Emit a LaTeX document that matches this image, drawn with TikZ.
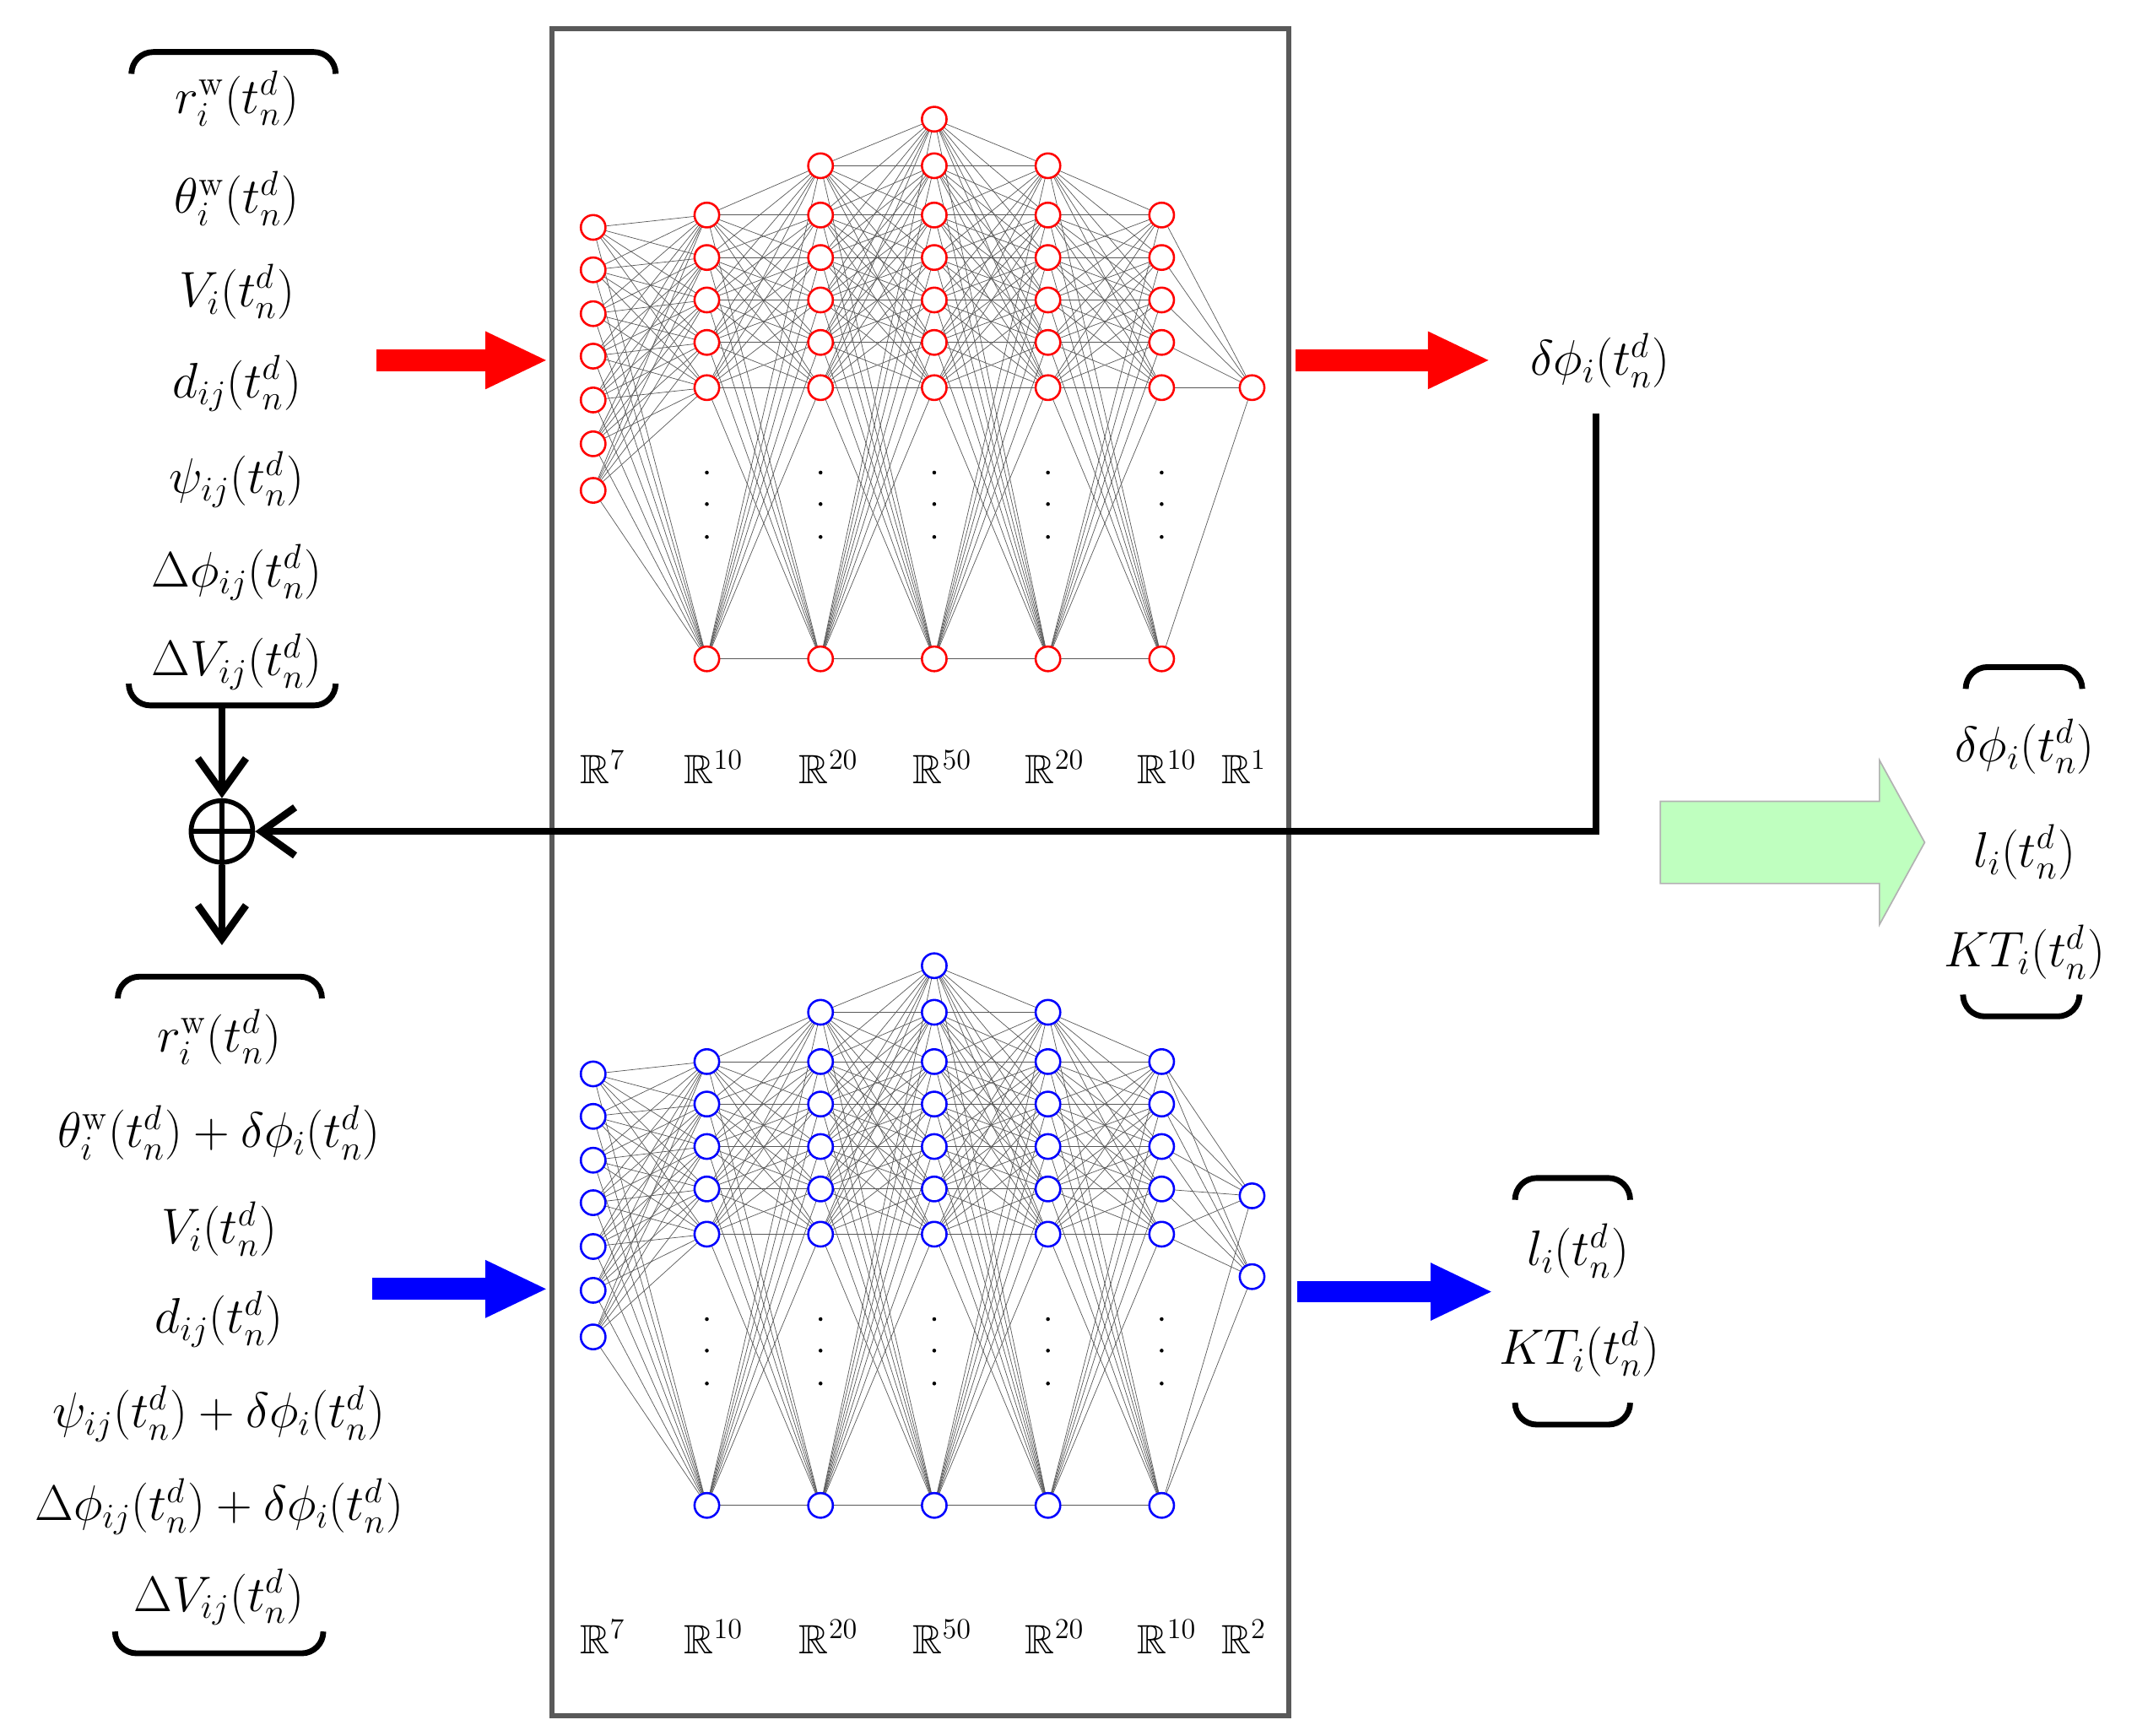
\documentclass[tikz,border=0pt]{standalone}
\usepackage{amsmath,amssymb}
\usetikzlibrary{arrows.meta}
\begin{document}
\begin{tikzpicture}[x=0.02cm,y=-0.02cm,
  neu/.style={circle,draw=#1,line width=0.9pt,fill=white,minimum size=0.36cm,inner sep=0pt},
  wire/.style={gray!70!black,line width=0.25pt},
  brace/.style={line width=2.4pt,rounded corners=9pt},
  lab/.style={font=\fontsize{21}{24}\selectfont,inner sep=0pt},
  dim/.style={font=\fontsize{17}{20}\selectfont,inner sep=0pt},
  fat/.style={line width=3pt,-{Straight Barb[length=14pt,width=20pt]}}]
\useasboundingbox (0,0) rectangle (1560,1267);
% box
\node[draw=gray!70!black,line width=2pt,minimum width=538*0.02cm,minimum height=1232*0.02cm,anchor=north west,inner sep=0pt] (box) at (401,19) {};
% networks
\foreach \net/\col/\dy/\outl in {r/red/0/{283}, b/blue/618/{255,314}}{
  \foreach \l/\x/\ys in {0/433/{166,197,229,260,292,324,358},
                         1/516/{157,188,219,250,283,481},
                         2/599/{121,157,188,219,250,283,481},
                         3/682/{87,121,157,188,219,250,283,481},
                         4/765/{121,157,188,219,250,283,481},
                         5/848/{157,188,219,250,283,481}}{
    \foreach \y in \ys { \coordinate (\net\l-\y) at (\x,\y+\dy); }
  }
  \foreach \y in \outl { \coordinate (\net6-\y) at (914,\y+\dy); }
  \foreach \a/\b/\ya/\yb in {0/1/{166,197,229,260,292,324,358}/{157,188,219,250,283,481},
      1/2/{157,188,219,250,283,481}/{121,157,188,219,250,283,481},
      2/3/{121,157,188,219,250,283,481}/{87,121,157,188,219,250,283,481},
      3/4/{87,121,157,188,219,250,283,481}/{121,157,188,219,250,283,481},
      4/5/{121,157,188,219,250,283,481}/{157,188,219,250,283,481}}{
    \foreach \i in \ya { \foreach \j in \yb { \draw[wire] (\net\a-\i) -- (\net\b-\j); } }
  }
  \foreach \i in {157,188,219,250,283,481}{ \foreach \j in \outl { \draw[wire] (\net5-\i) -- (\net6-\j); } }
  \foreach \l/\x/\ys in {0/433/{166,197,229,260,292,324,358},
                         1/516/{157,188,219,250,283,481},
                         2/599/{121,157,188,219,250,283,481},
                         3/682/{87,121,157,188,219,250,283,481},
                         4/765/{121,157,188,219,250,283,481},
                         5/848/{157,188,219,250,283,481}}{
    \foreach \y in \ys { \node[neu=\col] (n\net\l-\y) at (\net\l-\y) {}; }
  }
  \foreach \y in \outl { \node[neu=\col] (n\net6-\y) at (\net6-\y) {}; }
  \foreach \x in {516,599,682,765,848}{
    \foreach \y in {345,368,392}{ \fill (\x,\y+\dy) circle (1.4); }
  }
}
% dimension labels
\foreach \net/\y/\last in {r/560/1, b/1195/2}{
  \node[dim] (\net d0) at (440,\y) {$\mathbb{R}^{7}$};
  \node[dim] (\net d1) at (521,\y) {$\mathbb{R}^{10}$};
  \node[dim] (\net d2) at (605,\y) {$\mathbb{R}^{20}$};
  \node[dim] (\net d3) at (688,\y) {$\mathbb{R}^{50}$};
  \node[dim] (\net d4) at (770,\y) {$\mathbb{R}^{20}$};
  \node[dim] (\net d5) at (852,\y) {$\mathbb{R}^{10}$};
  \node[dim] (\net d6) at (908,\y) {$\mathbb{R}^{\last}$};
}
% upper inputs
\node[lab] (u1) at (173,72) {$r_i^{\mathrm{w}}(t_n^d)$};
\node[lab] (u2) at (173,145) {$\theta_i^{\mathrm{w}}(t_n^d)$};
\node[lab] (u3) at (173,213) {$V_i(t_n^d)$};
\node[lab] (u4) at (173,280) {$d_{ij}(t_n^d)$};
\node[lab] (u5) at (173,350) {$\psi_{ij}(t_n^d)$};
\node[lab] (u6) at (173,418) {$\Delta\phi_{ij}(t_n^d)$};
\node[lab] (u7) at (173,483) {$\Delta V_{ij}(t_n^d)$};
\draw[brace] (96,52) -- (96,38) -- (245,38) -- (245,52);
\draw[brace] (94,500) -- (94,515) -- (245,515) -- (245,500);
\coordinate (ubr) at (162,517);
% lower inputs
\node[lab] (l1) at (160,757) {$r_i^{\mathrm{w}}(t_n^d)$};
\node[lab] (l2) at (160,827) {$\theta_i^{\mathrm{w}}(t_n^d)+\delta\phi_i(t_n^d)$};
\node[lab] (l3) at (160,897) {$V_i(t_n^d)$};
\node[lab] (l4) at (160,963) {$d_{ij}(t_n^d)$};
\node[lab] (l5) at (160,1032) {$\psi_{ij}(t_n^d)+\delta\phi_i(t_n^d)$};
\node[lab] (l6) at (160,1100) {$\Delta\phi_{ij}(t_n^d)+\delta\phi_i(t_n^d)$};
\node[lab] (l7) at (160,1166) {$\Delta V_{ij}(t_n^d)$};
\draw[brace] (86,728) -- (86,713) -- (235,713) -- (235,728);
\draw[brace] (84,1192) -- (84,1207) -- (236,1207) -- (236,1192);
\coordinate (lbr) at (162,690);
% oplus
\node[circle,draw,line width=2pt,minimum size=0.9cm,inner sep=0pt] (plus) at (162,607) {};
\draw[line width=2pt] (plus.north) -- (plus.south) (plus.west) -- (plus.east);
\draw[fat] (ubr) -- (plus.north);
\draw[fat] (plus.south) -- (lbr);
% feedback
\node[lab] (dphi) at (1168,263) {$\delta\phi_i(t_n^d)$};
\coordinate (fb0) at (1165,302);
\draw[fat] (fb0) |- (plus.east);
% red arrows
\coordinate (ra0) at (275,263); \coordinate (ra1) at (400,263);
\coordinate (ra2) at (946,263); \coordinate (ra3) at (1088,263);
\draw[red,line width=9pt,-{Triangle[length=26pt,width=22pt]}] (ra0) -- (ra1);
\draw[red,line width=9pt,-{Triangle[length=26pt,width=22pt]}] (ra2) -- (ra3);
% blue arrows
\coordinate (ba0) at (272,941); \coordinate (ba1) at (400,941);
\draw[blue,line width=9pt,-{Triangle[length=26pt,width=22pt]}] (ba0) -- (ba1);
\node[lab] (o1) at (1152,913) {$l_i(t_n^d)$};
\node[lab] (o2) at (1153,985) {$KT_i(t_n^d)$};
\coordinate (ba2) at (947,943); \coordinate (ba3) at (1090,943);
\draw[blue,line width=9pt,-{Triangle[length=26pt,width=22pt]}] (ba2) -- (ba3);
\draw[brace] (1106,875) -- (1106,860) -- (1190,860) -- (1190,875);
\draw[brace] (1106,1025) -- (1106,1040) -- (1190,1040) -- (1190,1025);
% green arrow
\draw[gray!60,fill=green!25!white,line width=0.6pt] (1212,585) -- (1372,585) -- (1372,555) -- (1405,615) -- (1372,675) -- (1372,645) -- (1212,645) -- cycle;
\node[lab] (g1) at (1478,545) {$\delta\phi_i(t_n^d)$};
\node[lab] (g2) at (1478,622) {$l_i(t_n^d)$};
\node[lab] (g3) at (1478,695) {$KT_i(t_n^d)$};
\draw[brace] (1435,502) -- (1435,487) -- (1520,487) -- (1520,502);
\draw[brace] (1433,727) -- (1433,742) -- (1518,742) -- (1518,727);
\end{tikzpicture}
\end{document}
